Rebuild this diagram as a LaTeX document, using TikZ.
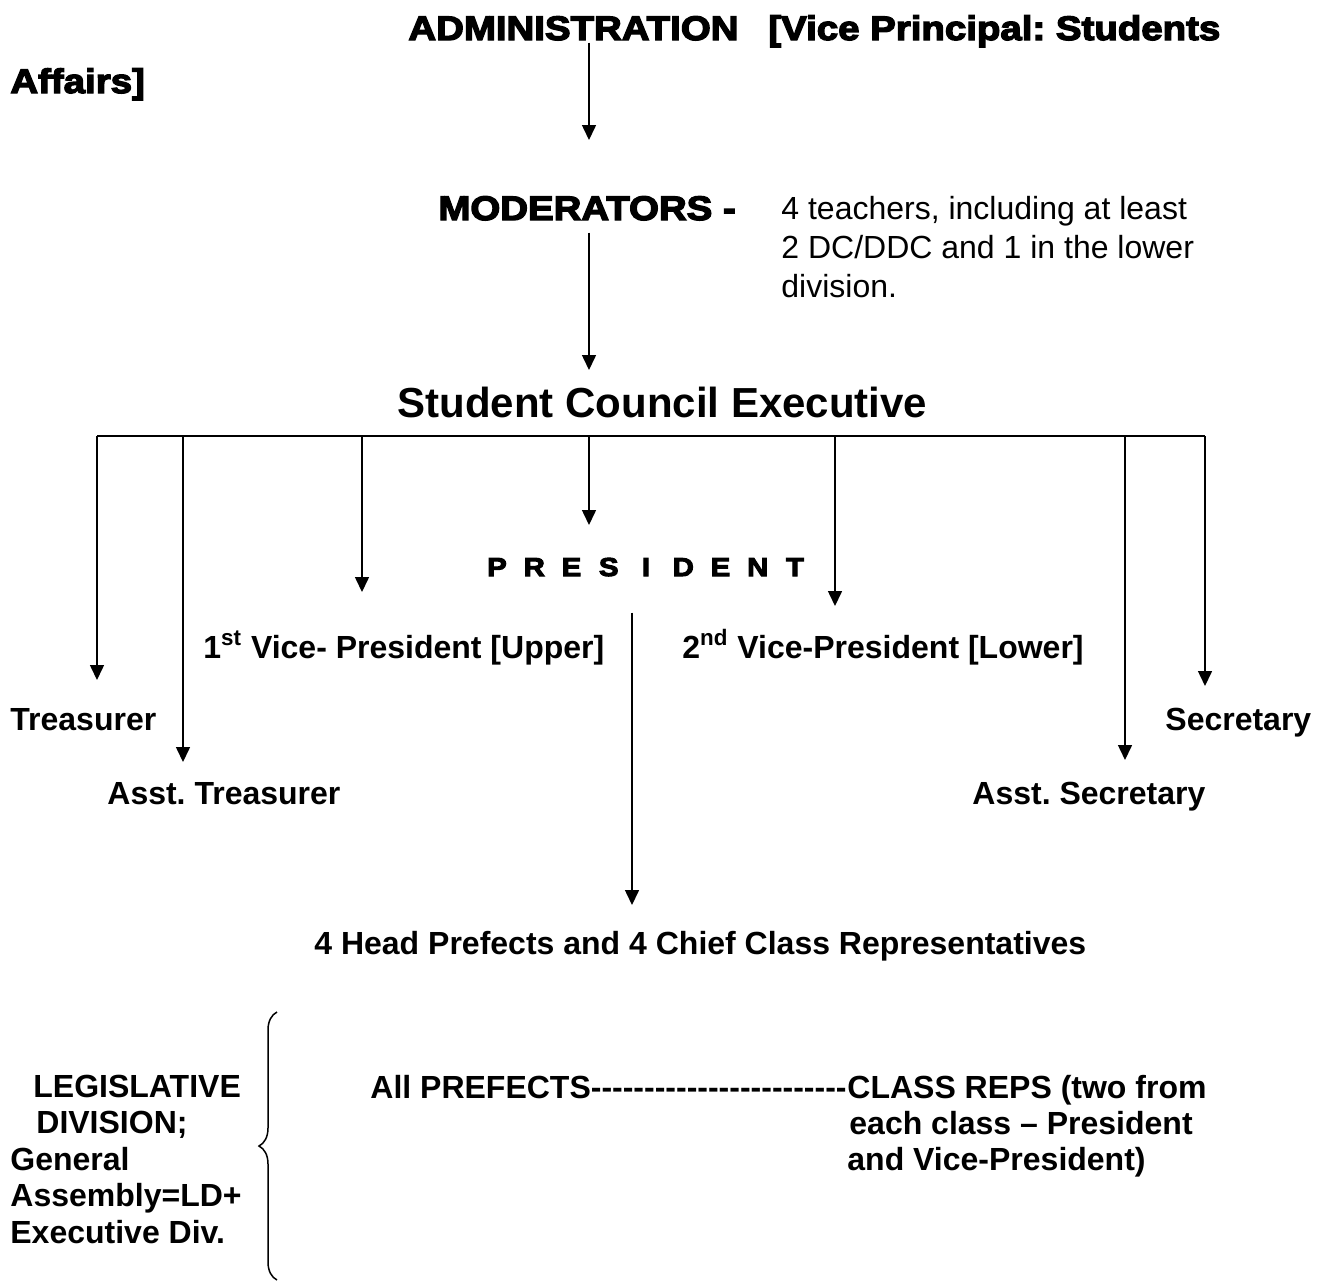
\documentclass[tikz,border=0pt]{standalone}
\usepackage{fontspec}
\setmainfont{Liberation Sans}
\newfontfamily\heavyfont[FakeBold=4,FakeStretch=1.13]{Liberation Sans Bold}
\usetikzlibrary{arrows.meta,decorations.pathreplacing}

\newcommand\presltr[1]{\makebox[18.625pt]{#1}}
\newcommand\hy{-{}}
\frenchspacing

\tikzset{
  lbl/.style={anchor=base west,inner sep=0pt,align=left,font=\bfseries\fontsize{16}{18.2}\selectfont},
  hvy/.style={anchor=base west,inner sep=0pt,font=\heavyfont\fontsize{17}{20}\selectfont},
  arr/.style={-{Triangle[length=7.5pt,width=7pt]},line width=0.75pt},
}

\begin{document}
\frenchspacing
\begin{tikzpicture}[x=0.5pt,y=-0.5pt]
 \useasboundingbox (0,0) rectangle (1321,1282);
 % top of the chart
 \node[hvy] (adm) at (408,40) {ADMINISTRATION};
 \node[hvy] (vpsa) at (768,40) {[Vice Principal: Students};
 \node[hvy] (aff) at (10,93) {Affairs]};
 \node[hvy] (mod) at (438,220) {MODERATORS -};
 \node[anchor=base west,inner sep=0pt,align=left,font=\fontsize{16}{19.3}\selectfont] (modtxt) at (781,297)
   {4 teachers, including at least\\2 DC/DDC and 1 in the lower\\division.};
 \node[anchor=base west,inner sep=0pt,font=\bfseries\fontsize{21}{25}\selectfont] (sce) at (397,417) {Student Council Executive};
 \node[anchor=base,inner sep=0pt,font=\heavyfont\fontsize{13}{15}\selectfont] (pres) at (646,576)
   {\presltr P\presltr R\presltr E\presltr S\presltr I\presltr D\presltr E\presltr N\presltr T};
 \coordinate (admtip) at (589,140);
 \coordinate (modtip) at (589,370);
 \draw[arr] ([yshift=-1pt]adm.south -| admtip) -- (admtip);
 \draw[arr] ([yshift=-6pt]mod.south -| modtip) -- (modtip);
 % officers
 \node[lbl] (vp1) at (203,658) {1\textsuperscript{st} Vice- President [Upper]};
 \node[lbl] (vp2) at (682,658) {2\textsuperscript{nd} Vice-President [Lower]};
 \node[lbl] (tre) at (10,730) {Treasurer};
 \node[lbl] (sec) at (1165,730) {Secretary};
 \node[lbl] (atr) at (107,804) {Asst. Treasurer};
 \node[lbl] (ase) at (972,804) {Asst. Secretary};
 \coordinate (bar w) at (97,436);
 \coordinate (bar e) at (1205,436);
 \draw[line width=0.75pt] (bar w) -- (bar e);
 \foreach \x/\y/\n in {97/680/tre,183/762/atr,362/592/vp1,589/525/pres,835/606/vp2,1125/760/ase,1205/686/sec}{
   \coordinate (\n tip) at (\x,\y);
   \draw[arr] (bar w -| \n tip) -- (\n tip);
 }
 % prefects
 \node[lbl] (hp) at (314,954) {4 Head Prefects and 4 Chief Class Representatives};
 \coordinate (hptip) at (632,905);
 \draw[arr] ([yshift=-18pt]pres.south -| hptip) -- (hptip);
 % legislative division
 \node[lbl] (leg) at (10,1243) {\hspace*{11.5pt}LEGISLATIVE\\\hspace*{13pt}DIVISION;\\General\\Assembly=LD+\\Executive Div.};
 \draw[line width=0.75pt,decorate,decoration={brace,amplitude=9pt}] (277,1280) -- (277,1012);
 \node[lbl] (ap) at (370,1098) {All PREFECTS\hy\hy\hy\hy\hy\hy\hy\hy\hy\hy\hy\hy\hy\hy\hy\hy\hy\hy\hy\hy\hy\hy\hy\hy};
 \node[lbl] (cr) at ([yshift=-36.4pt]ap.base east) {CLASS REPS (two from\\\hspace*{1pt}each class – President\\and Vice-President)};
\end{tikzpicture}
\end{document}
